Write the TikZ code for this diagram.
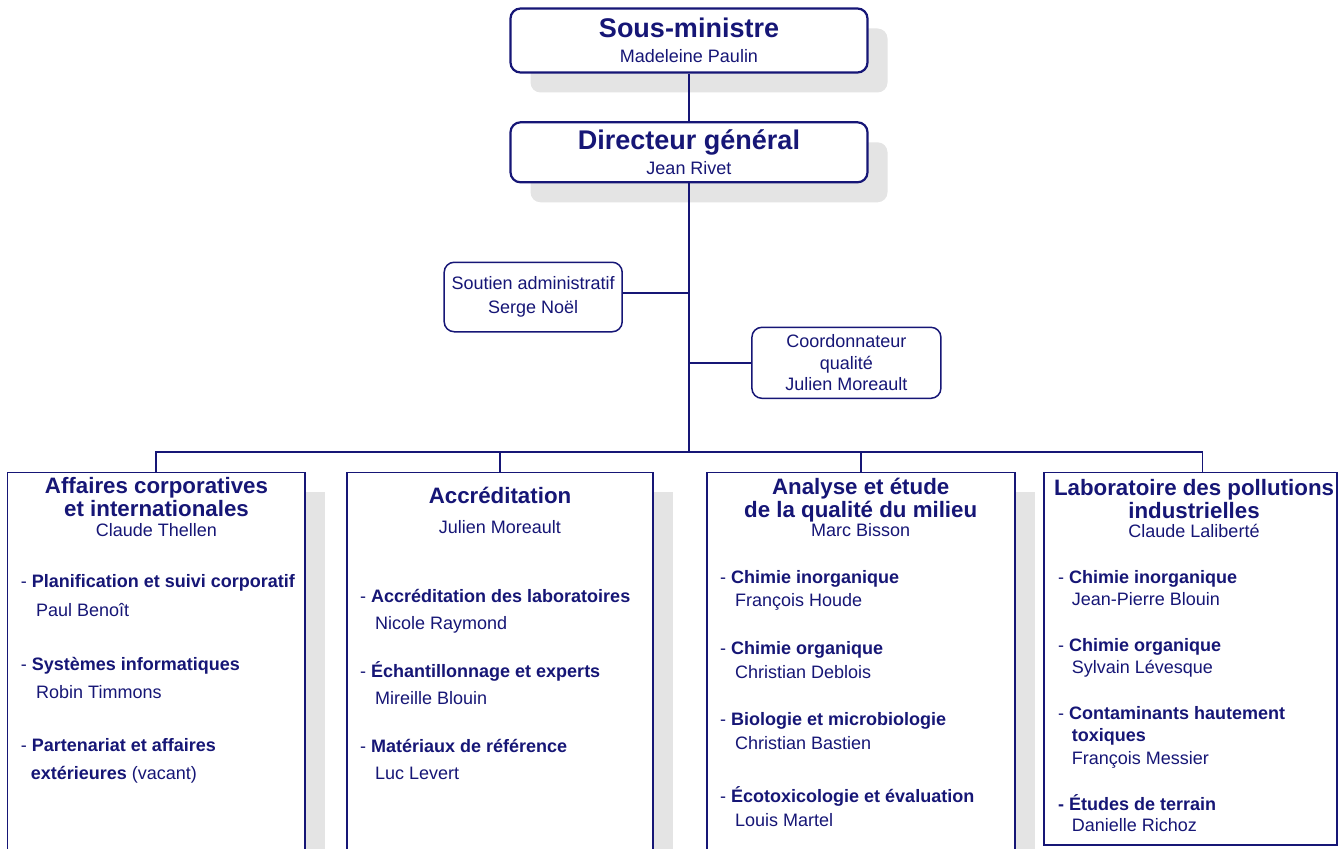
\documentclass[tikz,border=0pt]{standalone}
\usepackage{fontspec}
\setmainfont{Liberation Sans}
\usetikzlibrary{shadows}

\definecolor{orgnavy}{RGB}{22,22,118}
\definecolor{shadegray}{RGB}{228,228,228}

\tikzset{
  boxshadow/.style={drop shadow={shadow xshift=20pt,shadow yshift=-20pt,opacity=1,fill=shadegray}},
  topbox/.style={draw=orgnavy,line width=2.2pt,rounded corners=10pt,fill=white,text=orgnavy,
    align=center,inner sep=0pt,boxshadow},
  sidebox/.style={draw=orgnavy,line width=1.5pt,rounded corners=10pt,fill=white,text=orgnavy,
    align=center,inner sep=0pt,font=\fontsize{18}{24}\selectfont},
  unitbox/.style={draw=orgnavy,line width=1.7pt,fill=white,anchor=north,inner sep=0pt},
  link/.style={draw=orgnavy,line width=1.8pt},
  unittitle/.style={font=\fontsize{22.3}{25}\selectfont\bfseries,text=orgnavy,anchor=base,inner sep=0pt},
  chief/.style={font=\fontsize{18}{20}\selectfont,text=orgnavy,anchor=base,inner sep=0pt},
  item/.style={font=\fontsize{18}{20}\selectfont,text=orgnavy,anchor=base west,inner sep=0pt}
}

\begin{document}
\begin{tikzpicture}[x=1pt,y=-1pt]
  \useasboundingbox (0,0) rectangle (1340,848);

  \node[topbox,minimum width=357pt,minimum height=64pt,font=\fontsize{18}{25}\selectfont] (sm) at (689,40.5)
    {{\fontsize{27}{25}\selectfont\bfseries Sous-ministre}\\Madeleine Paulin};
  \node[topbox,minimum width=357pt,minimum height=60pt,font=\fontsize{18}{24.3}\selectfont] (dg) at (689,152.3)
    {{\fontsize{27}{25}\selectfont\bfseries Directeur général}\\Jean Rivet};

  \node[sidebox,minimum width=178pt,minimum height=69.5pt] (sa) at (533.2,297)
    {Soutien administratif\\Serge Noël};
  \node[sidebox,minimum width=189pt,minimum height=71pt,font=\fontsize{18}{21.7}\selectfont] (cq) at (846.4,362.8)
    {Coordonnateur\\qualité\\Julien Moreault};

  \node[unitbox,boxshadow,minimum width=297.7pt,minimum height=400pt] (aff) at (156.2,471.5) {};
  \node[unitbox,boxshadow,minimum width=306.6pt,minimum height=400pt] (acc) at (500,471.5) {};
  \node[unitbox,boxshadow,minimum width=308.3pt,minimum height=400pt] (ana) at (860.9,471.5) {};
  \node[unitbox,minimum width=292.7pt,minimum height=372.5pt] (lab) at (1190.4,471.5) {};

  \coordinate (bus) at (689,451.7);
  \coordinate (labtop) at ([xshift=12pt]lab.north);
  \draw[link] (sm.south) -- (dg.north);
  \draw[link] (dg.south) -- (bus);
  \draw[link] ([yshift=4pt]sa.east) -- ([yshift=4pt]sa.east -| dg.south);
  \draw[link] (cq.west) -- (cq.west -| dg.south);
  \draw[link] (aff.north) |- (labtop |- bus) -- (labtop);
  \draw[link] (acc.north) -- (acc.north |- bus);
  \draw[link] (ana.north) -- (ana.north |- bus);

  \node[unittitle] (afft1) at (156.5,493.5) {Affaires corporatives};
  \node[unittitle] (afft2) at (156.5,516.7) {et internationales};
  \node[chief] (affc) at (156.5,536) {Claude Thellen};
  \node[item] (aff1) at (20.7,587.7) {- \textbf{Planification et suivi corporatif}};
  \node[item] (aff1n) at (36,616) {Paul Benoît};
  \node[item] (aff2) at (20.7,670) {- \textbf{Systèmes informatiques}};
  \node[item] (aff2n) at (36,698.3) {Robin Timmons};
  \node[item] (aff3) at (20.7,751.7) {- \textbf{Partenariat et affaires}};
  \node[item] (aff3b) at (30.7,779.3) {\textbf{extérieures} (vacant)};

  \node[unittitle] (acct) at (500,503.3) {Accréditation};
  \node[chief] (accc) at (500,533.3) {Julien Moreault};
  \node[item] (acc1) at (360,602.3) {- \textbf{Accréditation des laboratoires}};
  \node[item] (acc1n) at (375,629.3) {Nicole Raymond};
  \node[item] (acc2) at (360,677.3) {- \textbf{Échantillonnage et experts}};
  \node[item] (acc2n) at (375,704.3) {Mireille Blouin};
  \node[item] (acc3) at (360,752.3) {- \textbf{Matériaux de référence}};
  \node[item] (acc3n) at (375,779) {Luc Levert};

  \node[unittitle] (anat1) at (860.7,494.3) {Analyse et étude};
  \node[unittitle] (anat2) at (860.7,517.7) {de la qualité du milieu};
  \node[chief] (anac) at (860.7,536.7) {Marc Bisson};
  \node[item] (ana1) at (720,583.3) {- \textbf{Chimie inorganique}};
  \node[item] (ana1n) at (735,606.7) {François Houde};
  \node[item] (ana2) at (720,654) {- \textbf{Chimie organique}};
  \node[item] (ana2n) at (735,678) {Christian Deblois};
  \node[item] (ana3) at (720,725) {- \textbf{Biologie et microbiologie}};
  \node[item] (ana3n) at (735,749.3) {Christian Bastien};
  \node[item] (ana4) at (720,802.3) {- \textbf{Écotoxicologie et évaluation}};
  \node[item] (ana4n) at (735,826) {Louis Martel};

  \node[unittitle] (labt1) at (1194,495) {Laboratoire des pollutions};
  \node[unittitle] (labt2) at (1194,518.3) {industrielles};
  \node[chief] (labc) at (1194,537.7) {Claude Laliberté};
  \node[item] (lab1) at (1058,583.3) {- \textbf{Chimie inorganique}};
  \node[item] (lab1n) at (1071.7,605) {Jean-Pierre Blouin};
  \node[item] (lab2) at (1058,651.7) {- \textbf{Chimie organique}};
  \node[item] (lab2n) at (1071.7,673.3) {Sylvain Lévesque};
  \node[item] (lab3) at (1058,719.3) {- \textbf{Contaminants hautement}};
  \node[item] (lab3b) at (1071.7,741.7) {\textbf{toxiques}};
  \node[item] (lab3n) at (1071.7,764.3) {François Messier};
  \node[item] (lab4) at (1058,810.7) {\textbf{- Études de terrain}};
  \node[item] (lab4n) at (1071.7,831.7) {Danielle Richoz};
\end{tikzpicture}
\end{document}
